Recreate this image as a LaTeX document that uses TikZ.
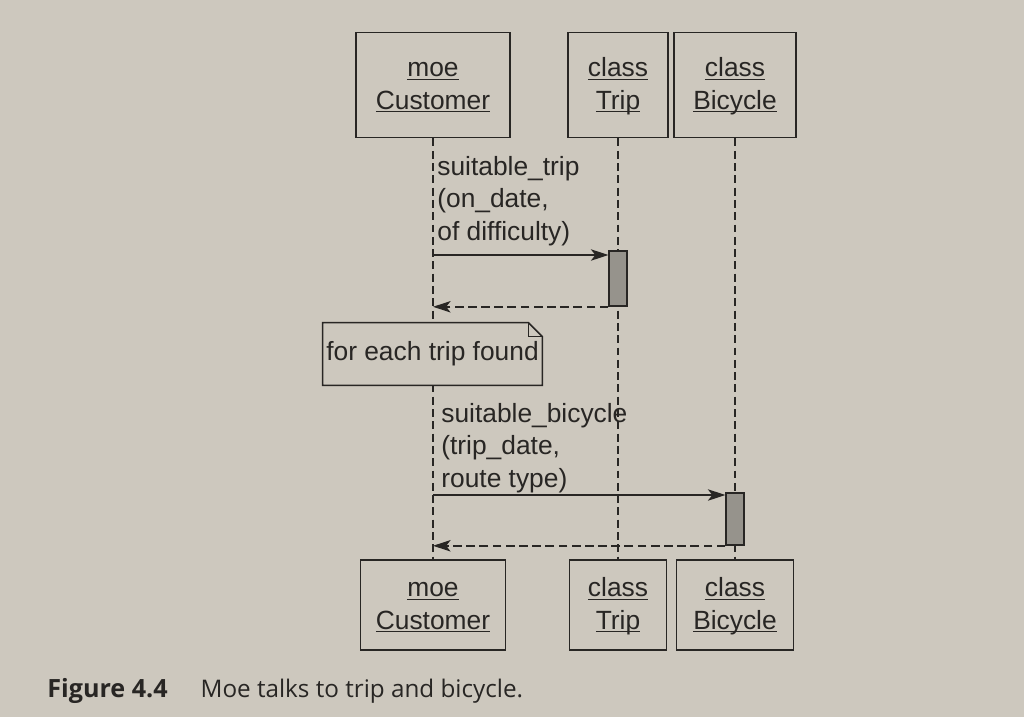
\documentclass[tikz,border=0pt]{standalone}
\usepackage{fontspec}
\setmainfont{Liberation Sans}
\newfontfamily\capfont{Open Sans}
\usepackage{tikz}
\usetikzlibrary{arrows.meta,positioning,calc}
\definecolor{paper}{RGB}{205,200,190}
\definecolor{ink}{RGB}{40,38,36}
\definecolor{actgray}{RGB}{150,147,140}
\newcommand{\objname}[1]{\underline{\raisebox{0pt}[\height][0pt]{#1\vphantom{Tl}}}}

\begin{document}
\begin{tikzpicture}[x=0.02cm, y=-0.02cm,
  every node/.style={font=\fontsize{15}{18.5}\selectfont, text=ink},
  objbox/.style={draw=ink, line width=1.1pt, fill=paper, align=center, inner sep=0pt},
  actbar/.style={draw=ink, line width=0.9pt, fill=actgray, minimum width=0.35cm, inner sep=0pt},
  lifeline/.style={draw=ink, line width=0.8pt, dash pattern=on 4.5pt off 2.5pt},
  msg/.style={draw=ink, line width=0.9pt, -{Stealth[length=10pt,width=6.5pt,inset=2.5pt]}},
  ret/.style={msg, dash pattern=on 5pt off 2.5pt},
  lbl/.style={anchor=north west, align=left, inner sep=0pt}]
% page
\fill[paper] (0,0) rectangle (1024,717);
% --- objects on top ---
\node[objbox, minimum width=3.08cm, minimum height=2.1cm] (custTop) at (433,85) {\objname{moe}\\\objname{Customer}};
\node[objbox, minimum width=2cm, minimum height=2.1cm] (tripTop) at (618,85) {\objname{class}\\\objname{Trip}};
\node[objbox, minimum width=2.44cm, minimum height=2.1cm] (bikeTop) at (735,85) {\objname{class}\\\objname{Bicycle}};
% --- objects at the bottom ---
\node[objbox, minimum width=2.9cm, minimum height=1.8cm] (custBot) at (433,605) {\objname{moe}\\\objname{Customer}};
\node[objbox, minimum width=1.94cm, minimum height=1.8cm] (tripBot) at (618,605) {\objname{class}\\\objname{Trip}};
\node[objbox, minimum width=2.34cm, minimum height=1.8cm] (bikeBot) at (735,605) {\objname{class}\\\objname{Bicycle}};
% lifelines
\draw[lifeline] (custTop.south) -- (custBot.north);
\draw[lifeline] (tripTop.south) -- (tripBot.north);
\draw[lifeline] (bikeTop.south) -- (bikeBot.north);
% activations
\node[actbar, minimum height=1.1cm] (tripAct) at (618,278.5) {};
\node[actbar, minimum height=1.04cm] (bikeAct) at (735,519) {};
% suitable_trip
\coordinate (callTrip) at (433,255);
\node[lbl] (tripMsg) at (437,156) {suitable\_trip\\(on\_date,\\of difficulty)};
\draw[msg] (callTrip) -- (callTrip -| tripAct.west);
\draw[ret] (tripAct.south west) -- (tripAct.south west -| custTop.south);
% note
\node[minimum width=4.38cm, minimum height=1.24cm, fill=paper, inner sep=0pt] (note) at (432.5,354) {for each trip found};
\draw[ink, line width=0.9pt] (note.north west) -- ([xshift=-0.28cm]note.north east)
  -- ([yshift=-0.28cm]note.north east) -- (note.south east) -- (note.south west) -- cycle;
\draw[ink, line width=0.9pt] ([xshift=-0.28cm]note.north east)
  -- ([xshift=-0.28cm, yshift=-0.28cm]note.north east) -- ([yshift=-0.28cm]note.north east);
% suitable_bicycle
\coordinate (callBike) at (433,495);
\node[lbl] (bikeMsg) at (441,403) {suitable\_bicycle\\(trip\_date,\\route type)};
\draw[msg] (callBike) -- (callBike -| bikeAct.west);
\draw[ret] (bikeAct.south west) -- (bikeAct.south west -| custTop.south);
% caption
\node[anchor=base west, inner sep=0pt, font=\capfont\fontsize{14.3}{17}\selectfont] (caption) at (47,697)
  {{\bfseries Figure 4.4}\hspace{0.66cm}{\fontsize{13.8}{17}\selectfont Moe talks to trip and bicycle.}};
\end{tikzpicture}
\end{document}
